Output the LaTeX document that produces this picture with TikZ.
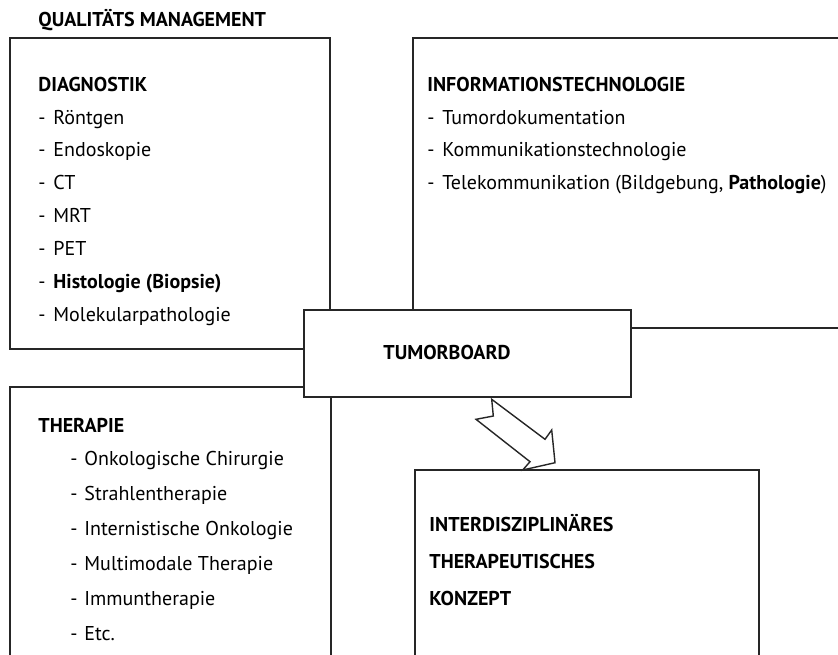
\documentclass[tikz,border=0pt]{standalone}
\usepackage{fontspec}
\setmainfont{PT Sans}
\usepackage{tikz}

\begin{document}
\begin{tikzpicture}[x=0.5pt, y=-0.5pt,
    box/.style = {draw=black!85, line width=0.7pt, fill=white},
    head/.style = {anchor=base west, inner sep=0pt, font=\fontsize{10}{12}\selectfont\bfseries},
    item/.style = {anchor=base west, inner sep=0pt, font=\fontsize{10}{12}\selectfont}]
    \clip (0,0) rectangle (838,654);
    \fill[white] (0,0) rectangle (838,654);
    \draw[box] (10,38) rectangle (330,349);
    \draw[box] (413,38) rectangle (900,328);
    \draw[box] (10,387) rectangle (331,700);
    \draw[box] (415,470) rectangle (759,700);
    \draw[box] (304,310) rectangle (631,397);
    \node[head] (qm) at (38,26.7) {QUALITÄTS MANAGEMENT};
    \node[head] (diag) at (38,91.7) {DIAGNOSTIK};
    \foreach \t [count=\i] in {Röntgen, Endoskopie, CT, MRT, PET, {\bfseries Histologie (Biopsie)}, Molekularpathologie}
        \node[item] (d\i) at (38,{124+32.9*(\i-1)}) {\makebox[7.5pt][l]{-}\t};
    \node[head] (it) at (427,91.7) {INFORMATIONSTECHNOLOGIE};
    \foreach \t [count=\i] in {Tumordokumentation, Kommunikationstechnologie, {Telekommunikation (Bildgebung, \textbf{Pathologie})}}
        \node[item] (i\i) at (427,{124+32.9*(\i-1)}) {\makebox[7.5pt][l]{-}\t};
    \node[head] (tb) at (383,359) {TUMORBOARD};
    \node[head] (ther) at (38,432.3) {THERAPIE};
    \foreach \t [count=\i] in {Onkologische Chirurgie, Strahlentherapie, Internistische Onkologie, Multimodale Therapie, Immuntherapie, Etc.}
        \node[item] (t\i) at (70,{465.7+35*(\i-1)}) {\makebox[7pt][l]{-}\t};
    \node[head] (k1) at (429,531.7) {INTERDISZIPLINÄRES};
    \node[head] (k2) at (429,568.3) {THERAPEUTISCHES};
    \node[head] (k3) at (429,605) {KONZEPT};
    \draw[box, line join=miter] (491.7,399.3) -- (545,439.3) -- (551.7,430) -- (555,462.7)
        -- (522.7,470) -- (530,461.7) -- (476,419.3) -- (493.3,416) -- cycle;
\end{tikzpicture}
\end{document}
